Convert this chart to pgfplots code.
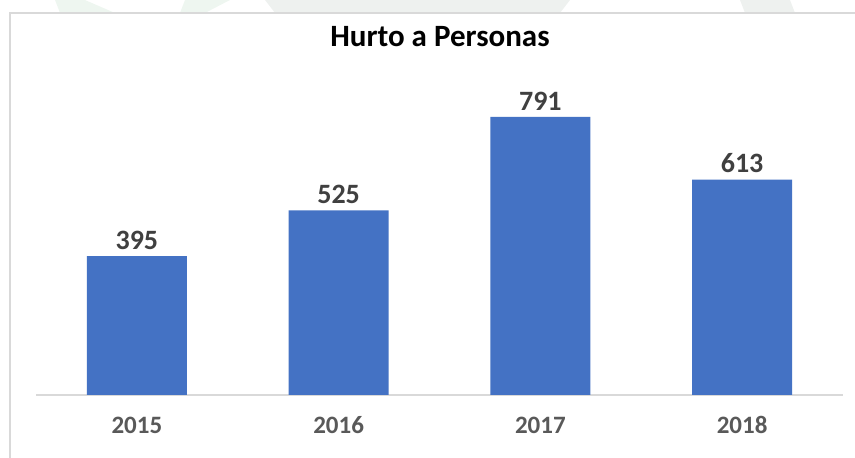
\documentclass[border=0pt]{standalone}
\usepackage{pgfplots}
\pgfplotsset{compat=1.18}
\usepackage{fontspec}
\setmainfont{Carlito}
\definecolor{barblue}{HTML}{4472C4}
\definecolor{lblgray}{HTML}{404040}
\definecolor{tickgray}{HTML}{595959}
\definecolor{framegray}{HTML}{D9D9D9}
\definecolor{wm}{HTML}{EEF6F0}
\definecolor{wmg}{HTML}{EEF1EF}
\begin{document}
\begin{tikzpicture}
\path[use as bounding box] (0pt,0pt) rectangle (855pt,458pt);
% faint watermark in top strip
\fill[wm] (55pt,458pt) -- (85pt,458pt) -- (115pt,445pt) -- (60pt,445pt) -- cycle;
\fill[wm] (185pt,458pt) -- (230pt,458pt) -- (205pt,445pt) -- (180pt,445pt) -- cycle;
\fill[wmg] (265pt,458pt) -- (570pt,458pt) -- (560pt,445pt) -- (275pt,445pt) -- cycle;
\fill[wmg] (740pt,458pt) -- (790pt,458pt) -- (795pt,445pt) -- (745pt,445pt) -- cycle;
% chart frame
\draw[framegray, line width=1.2pt] (10pt,0pt) -- (10pt,445pt) -- (855pt,445pt);
\fill[white] (10.6pt,0pt) rectangle (855pt,444.4pt);
\begin{axis}[
  at={(36pt,63pt)}, anchor=south west,
  scale only axis, width=807pt, height=351.5pt,
  xmin=-0.5, xmax=3.5, ymin=0, ymax=1000,
  axis y line=none,
  axis x line*=bottom,
  x axis line style={framegray, line width=1.2pt, -},
  xtick={0,1,2,3},
  xticklabels={2015,2016,2017,2018},
  major tick length=0pt,
  xticklabel style={font=\fontsize{25}{28}\selectfont\bfseries, text=tickgray, anchor=north, text height=17pt, text depth=0pt, yshift=-18pt},
  ybar, bar width=100pt,
  bar shift=0pt,
  nodes near coords,
  /pgf/number format/assume math mode=true,
  every node near coord/.append style={font=\fontsize{28}{30}\selectfont\bfseries, text=lblgray, text height=18pt, text depth=0pt, yshift=3pt},
  clip=false,
]
\addplot[fill=barblue, draw=none] coordinates {(0,395) (1,525) (2,791) (3,613)};
\end{axis}
\node[font=\fontsize{31}{34}\selectfont\bfseries, text=black] at (440pt,421pt) {Hurto a Personas};
\end{tikzpicture}
\end{document}
